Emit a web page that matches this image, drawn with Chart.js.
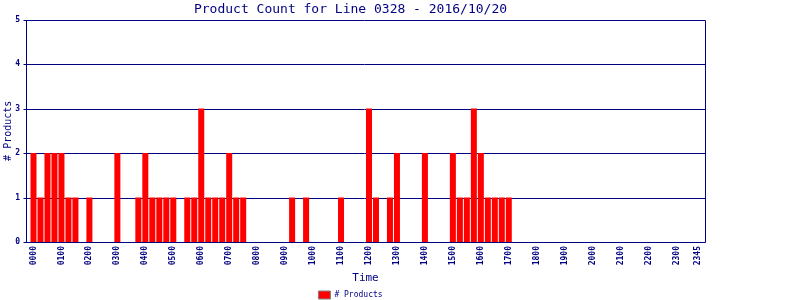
<!DOCTYPE html>
<html>
<head>
<meta charset="utf-8">
<script src="https://cdn.jsdelivr.net/npm/chart.js@4/dist/chart.umd.min.js"></script>
<style>
  body { margin: 0; background: #fff; }
  canvas { display: block; }
</style>
</head>
<body>
<canvas id="countChart" width="800" height="300"></canvas>
<script>
const chartTitle = "Product Count for Line 0328 - 2016/10/20";
const seriesName = "# Products";

// 15 minute slots over the day
const times = [
  "0000","0015","0030","0045","0100","0115","0130","0145",
  "0200","0215","0230","0245","0300","0315","0330","0345",
  "0400","0415","0430","0445","0500","0515","0530","0545",
  "0600","0615","0630","0645","0700","0715","0730","0745",
  "0800","0815","0830","0845","0900","0915","0930","0945",
  "1000","1015","1030","1045","1100","1115","1130","1145",
  "1200","1215","1230","1245","1300","1315","1330","1345",
  "1400","1415","1430","1445","1500","1515","1530","1545",
  "1600","1615","1630","1645","1700","1715","1730","1745",
  "1800","1815","1830","1845","1900","1915","1930","1945",
  "2000","2015","2030","2045","2100","2115","2130","2145",
  "2200","2215","2230","2245","2300","2315","2330","2345"
];

const counts = [
  2,1,2,2,2,1,1,0,
  1,0,0,0,2,0,0,1,
  2,1,1,1,1,0,1,1,
  3,1,1,1,2,1,1,0,
  0,0,0,0,0,1,0,1,
  0,0,0,0,1,0,0,0,
  3,1,0,1,2,0,0,0,
  2,0,0,0,2,1,1,3,
  2,1,1,1,1,0,0,0,
  0,0,0,0,0,0,0,0,
  0,0,0,0,0,0,0,0,
  0,0,0,0,0,0,0,0
];

// only the hours and the last slot get a label
const shownTicks = [
  "0000","0100","0200","0300","0400","0500","0600","0700","0800","0900","1000","1100",
  "1200","1300","1400","1500","1600","1700","1800","1900","2000","2100","2200","2300","2345"
];

const navy = "#000080";
const mono = "'DejaVu Sans Mono', 'Liberation Mono', monospace";
const margin = 4; // frame sits a little outside the bar area

// frame and horizontal grid, drawn a few px wider than the bars
const frame = {
  id: "frame",
  beforeDatasetsDraw(chart) {
    const a = chart.chartArea;
    const y = chart.scales.y;
    const ctx = chart.ctx;
    const l = Math.round(a.left - margin) + 0.5;
    const r = Math.round(a.right + margin) + 0.5;
    ctx.save();
    ctx.strokeStyle = navy;
    ctx.lineWidth = 1;
    ctx.beginPath();
    y.ticks.forEach((t) => {
      const py = Math.round(y.getPixelForValue(t.value)) + 0.5;
      ctx.moveTo(l - 3, py);
      ctx.lineTo(r, py);
    });
    ctx.moveTo(l, Math.round(a.top) + 0.5);
    ctx.lineTo(l, Math.round(a.bottom) + 0.5);
    ctx.moveTo(r, Math.round(a.top) + 0.5);
    ctx.lineTo(r, Math.round(a.bottom) + 0.5);
    ctx.stroke();
    ctx.restore();
  }
};

const countChart = new Chart(document.getElementById("countChart"), {
  type: "bar",
  data: {
    labels: times,
    datasets: [
      {
        label: seriesName,
        data: counts,
        backgroundColor: "#ff0000",
        borderWidth: 0,
        barPercentage: 0.86,
        categoryPercentage: 1.0,
      },
    ],
  },
  plugins: [frame],
  options: {
    responsive: false,
    animation: false,
    devicePixelRatio: 1,
    layout: {
      padding: { left: 0, right: 99, top: 0, bottom: 0 },
    },
    plugins: {
      title: {
        display: true,
        text: chartTitle,
        color: navy,
        font: { family: mono, size: 13, weight: "normal" },
        padding: { top: 2, bottom: 2 },
      },
      legend: {
        position: "bottom",
        maxHeight: 10,
        labels: {
          color: navy,
          font: { family: mono, size: 8 },
          boxWidth: 12,
          boxHeight: 8,
          padding: 1,
          generateLabels: () => [
            {
              text: seriesName,
              fillStyle: "#ff0000",
              strokeStyle: "#808080",
              lineWidth: 1,
              fontColor: navy,
            },
          ],
        },
      },
      tooltip: { enabled: false },
    },
    scales: {
      x: {
        offset: true,
        afterFit: (scale) => {
          scale.height = 48;
        },
        grid: { display: false, drawTicks: false },
        border: { display: false },
        ticks: {
          color: navy,
          font: { family: mono, size: 8, weight: "bold" },
          autoSkip: false,
          maxRotation: 90,
          minRotation: 90,
          padding: 4,
          callback: function (value) {
            const t = this.getLabelForValue(value);
            return shownTicks.includes(t) ? t : "";
          },
        },
        title: {
          display: true,
          text: "Time",
          color: navy,
          font: { family: mono, size: 11 },
          padding: { top: 0, bottom: 5 },
        },
      },
      y: {
        min: 0,
        max: 5,
        afterFit: (scale) => {
          scale.width = 30;
        },
        grid: { display: false, drawTicks: false },
        border: { display: false },
        ticks: {
          stepSize: 1,
          color: navy,
          font: { family: mono, size: 8, weight: "bold" },
          padding: 10,
        },
        title: {
          display: true,
          text: "# Products",
          color: navy,
          font: { family: mono, size: 10 },
          padding: { top: 2, bottom: 0 },
        },
      },
    },
  },
});
</script>
</body>
</html>
